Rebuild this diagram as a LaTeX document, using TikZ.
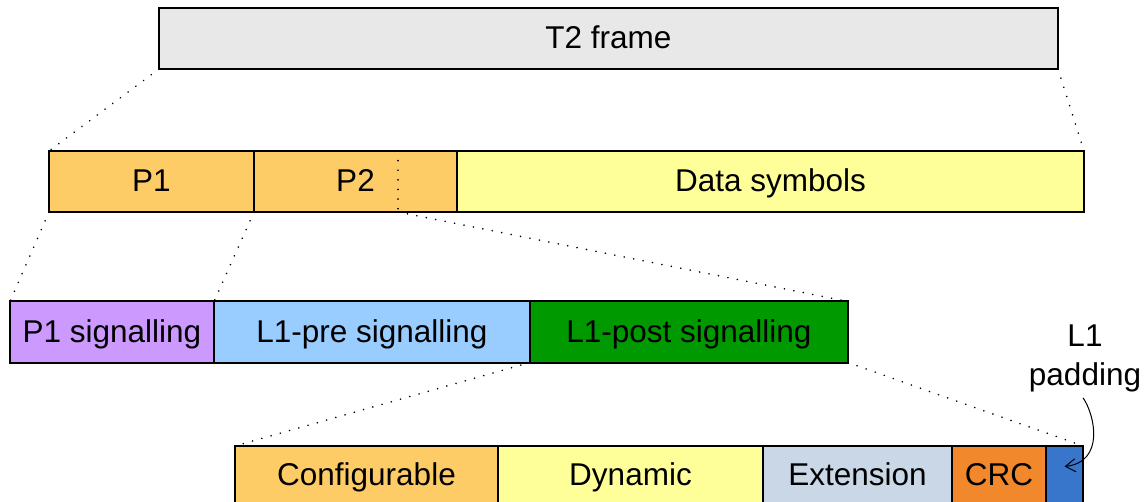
\documentclass[tikz,border=0pt]{standalone}
\usepackage{fontspec}
\setmainfont{Liberation Sans}
\usepackage{tikz}
\usetikzlibrary{arrows.meta}
\usepackage{xcolor}

\definecolor{frameGray}{RGB}{232,232,232}
\definecolor{pOrange}{RGB}{254,204,102}
\definecolor{dataYellow}{RGB}{255,255,153}
\definecolor{sigPurple}{RGB}{204,153,255}
\definecolor{preBlue}{RGB}{153,204,255}
\definecolor{postGreen}{RGB}{0,153,0}
\definecolor{extBlue}{RGB}{201,215,231}
\definecolor{crcOrange}{RGB}{241,136,44}
\definecolor{padBlue}{RGB}{56,118,204}

\tikzset{
	seg/.style={draw, line width=2pt, anchor=west, inner sep=0pt, outer sep=0pt, minimum height=61pt, text height=23pt, text depth=3pt},
	field/.style={seg, text depth=6pt},
	zoomline/.style={line width=1.8pt, dash pattern=on 0.01pt off 9.6pt, line cap=round},
}

\begin{document}
\begin{tikzpicture}[x=1pt, y=-1pt, font=\fontsize{31.5}{39}\selectfont]
	\useasboundingbox (0,0) rectangle (1145,502);
	
	% frame
	\node[seg, fill=frameGray, minimum width=899pt] (frame) at (159,38.5) {T2 frame};
	
	% symbols
	\node[seg, fill=pOrange, minimum width=205pt] (p1) at (49,181.5) {P1};
	\node[seg, fill=pOrange, minimum width=203pt] (p2) at (254,181.5) {P2};
	\node[seg, fill=dataYellow, minimum width=627pt] (data) at (457,181.5) {Data symbols};
	\coordinate (p2cutTop) at (398,151);
	\coordinate (p2cutBot) at (398,212);
	\draw[zoomline] (p2cutTop) -- (p2cutBot);
	
	% signalling
	\node[seg, fill=sigPurple, minimum width=204pt] (p1sig) at (10,332) {P1 signalling};
	\node[seg, fill=preBlue, minimum width=316pt] (l1pre) at (214,332) {L1-pre signalling};
	\node[seg, fill=postGreen, minimum width=318pt] (l1post) at (530,332) {L1-post signalling};
	
	% L1-post fields
	\node[field, fill=pOrange, minimum width=263pt] (conf) at (235,476.5) {Configurable};
	\node[field, fill=dataYellow, minimum width=265pt] (dyn) at (498,476.5) {Dynamic};
	\node[field, fill=extBlue, minimum width=189pt] (ext) at (763,476.5) {Extension};
	\node[field, fill=crcOrange, minimum width=94pt] (crc) at (952,476.5) {CRC};
	\node[field, fill=padBlue, minimum width=37pt] (pad) at (1046,476.5) {};
	
	% zoom lines
	\draw[zoomline] (frame.south west) -- (p1.north west);
	\draw[zoomline] (frame.south east) -- (data.north east);
	\draw[zoomline] (p1.south west) -- (p1sig.north west);
	\draw[zoomline] (p1.south east) -- (p1sig.north east);
	\draw[zoomline] (p2cutBot) -- (l1post.north east);
	\draw[zoomline] (l1post.south west) -- (conf.north west);
	\draw[zoomline] (l1post.south east) -- (pad.north east);
	
	% padding label
	\node[align=center, inner sep=0pt] (padlbl) at (1085,358) {L1\\padding};
	\coordinate (padtip) at ([yshift=10pt]pad.center);
	\draw[line width=1pt, -{Straight Barb[length=10pt, width=13pt]}] ([xshift=-2pt, yshift=-6pt]padlbl.south) .. controls (1095,415) and (1105,462) .. (padtip);
	
\end{tikzpicture}
\end{document}
